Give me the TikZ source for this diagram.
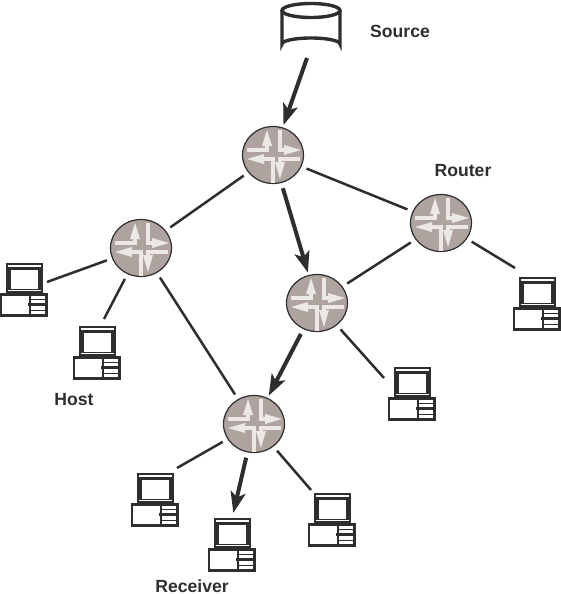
\documentclass[tikz,border=0pt]{standalone}
\usepackage{fontspec}
\setmainfont{Liberation Sans}
\usetikzlibrary{arrows.meta,shapes.geometric}
\definecolor{ink}{HTML}{2E2E2E}
\definecolor{rfill}{HTML}{AFA3A0}
\definecolor{rarrow}{HTML}{ECE8E6}
\tikzset{
  x=1pt,y=-1pt,
  routerbody/.style={ellipse,draw=ink,line width=1.2pt,fill=rfill,inner sep=0pt,minimum width=61pt,minimum height=57pt,outer sep=6pt},
  hostbox/.style={rectangle,inner sep=0pt,minimum width=48pt,minimum height=54pt},
  srcbox/.style={rectangle,inner sep=0pt,minimum width=58pt,minimum height=46pt,outer sep=2pt},
  link/.style={ink,line width=2.5pt},
  flow/.style={ink,line width=4pt,shorten >=-3pt,-{Stealth[length=21pt,width=15pt,inset=5pt]}},
  lbl/.style={font=\fontsize{17.6}{20}\selectfont\bfseries,text=ink,inner sep=0pt},
  rbar/.style={rarrow,line width=3.6pt},
  rhead/.style={fill=rarrow,draw=none},
  hline/.style={ink,line width=2.6pt},
  pics/routerarrows/.style={code={
    \draw[rbar] (-26,-5) -- (-6,-5) -- (-6,-12);
    \fill[rhead] (-6,-25) -- (-11,-9) -- (-1,-9) -- cycle;
    \draw[rbar] (7,-25) -- (7,-5) -- (14,-5);
    \fill[rhead] (28,-5) -- (11,-10) -- (11,0) -- cycle;
    \draw[rbar] (0,28) -- (0,4) -- (-10,4);
    \fill[rhead] (-26,4) -- (-9,-1) -- (-9,9) -- cycle;
    \draw[rbar] (27,4) -- (7,4) -- (7,10);
    \fill[rhead] (7,24) -- (2,7) -- (12,7) -- cycle;
  }},
  pics/hostpic/.style={code={
    \fill[ink] (6.5,0) rectangle (43,31);
    \fill[white] (8.5,2.4) rectangle (41,3.8);
    \fill[white] (11.5,7) rectangle (38,26);
    \fill[white] (8.5,27.5) rectangle (41,28.6);
    \draw[hline,fill=white] (1.3,31.5) rectangle (46.7,52.7);
    \draw[hline] (30,32) -- (30,52);
    \draw[ink,line width=1.4pt] (30,36.5) -- (46,36.5) (30,47.5) -- (46,47.5);
    \draw[ink,line width=2.8pt] (28,42) -- (46,42);
  }},
}
\begin{document}
\begin{tikzpicture}
\useasboundingbox (0,0) rectangle (560,594);
% source
\node[srcbox] (src) at (311,27) {};
\draw[ink,line width=3.4pt] (282,10.5) -- (282,44) arc[start angle=180,end angle=360,x radius=29,y radius=6] -- (340,10.5);
\draw[ink,line width=3.4pt,fill=white] (311,10.5) ellipse[x radius=29,y radius=7];
% routers
\node[routerbody] (r1) at (273,155) {};
\node[routerbody] (r2) at (141,248) {};
\node[routerbody] (r3) at (317,303) {};
\node[routerbody] (r4) at (441,223) {};
\node[routerbody] (r5) at (254,424) {};
\foreach \n in {r1,r2,r3,r4,r5} \pic at (\n.center) {routerarrows};
% hosts
\node[hostbox] (h1) at (24,290) {};
\node[hostbox] (h2) at (97,353) {};
\node[hostbox] (h3) at (537,304) {};
\node[hostbox] (h4) at (412,394) {};
\node[hostbox] (h5) at (155,500) {};
\node[hostbox] (h6) at (232,545) {};
\node[hostbox] (h7) at (332,520) {};
\foreach \n in {h1,h2,h3,h4,h5,h6,h7} \pic at (\n.north west) {hostpic};
% connector ends at the hosts
\coordinate (e1) at (47,282);
\coordinate (e2) at (104,319);
\coordinate (e3) at (515,268);
\coordinate (e4) at (384,378);
\coordinate (e5) at (177,468);
\coordinate (e6) at (234,510);
\coordinate (e7) at (311,490);
\coordinate (srcout) at (307,58);
% links
\draw[link] (r1) -- (r2);
\draw[link] (r1) -- (r4);
\draw[link] (r2) -- (r5);
\draw[link] (r3) -- (r4);
\draw[link] (r2) -- (e1);
\draw[link] (r2) -- (e2);
\draw[link] (r4) -- (e3);
\draw[link] (r3) -- (e4);
\draw[link] (r5) -- (e5);
\draw[link] (r5) -- (e7);
% flows
\draw[flow] (srcout) -- (r1);
\draw[flow] (r1) -- (r3);
\draw[flow] (r3) -- (r5);
\draw[flow] (r5) -- (e6);
% labels
\node[lbl] (l1) at (400,31) {Source};
\node[lbl] (l2) at (463,171) {Router};
\node[lbl] (l3) at (74,400) {Host};
\node[lbl] (l4) at (192,586) {Receiver};
\end{tikzpicture}
\end{document}
